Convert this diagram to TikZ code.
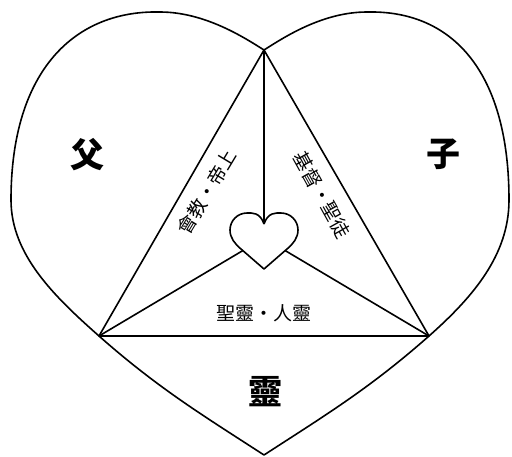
\documentclass[tikz,border=0pt]{standalone}
\usepackage{fontspec}
\newfontfamily\cjk{Noto Sans CJK TC}
\begin{document}
\begin{tikzpicture}[x=1pt,y=-1pt,line width=1.6pt,line join=round,
  big/.style={font=\cjk\bfseries\fontsize{34}{34}\selectfont,inner sep=0pt},
  small/.style={font=\cjk\fontsize{19}{19}\selectfont,inner sep=0pt}]
\useasboundingbox (0,0) rectangle (512,456);
\coordinate (A) at (264,50);
\coordinate (B) at (99,336);
\coordinate (C) at (429,336);
\coordinate (T) at (264,455);
\coordinate (O) at (264,238);
\coordinate (N) at (264,224);
% outer heart
\draw (A) .. controls (245,38) and (205,12) .. (160,12)
  .. controls (75,10) and (11,70) .. (11,200)
  .. controls (11,255) and (55,297) .. (B)
  .. controls (159,389) and (204,416) .. (T)
  .. controls (324,416) and (369,389) .. (C)
  .. controls (473,297) and (509,255) .. (509,200)
  .. controls (509,75) and (455,10) .. (367,12)
  .. controls (322,12) and (283,38) .. (A);
% triangle and spokes
\draw (A) -- (B) -- (C) -- cycle;
\draw (A) -- (O);
\draw (B) -- (O);
\draw (C) -- (O);
% small heart
\draw[fill=white] (N) .. controls (268,212) and (276,213) .. (281,213)
  .. controls (290.4,213) and (298,220.6) .. (298,230)
  .. controls (298,238) and (293,244) .. (287,249)
  -- (264,269) -- (241,249)
  .. controls (235,244) and (230,238) .. (230,230)
  .. controls (230,220.6) and (237.6,213) .. (247,213)
  .. controls (252,213) and (260,212) .. (N);
% labels
\node[big] (fu) at (87,155) {父};
\node[big] (zi) at (443,154) {子};
\node[big] (ling) at (265,392) {靈};
\node[small,rotate=59] (left) at (207,192) {會教・帝上};
\node[small,rotate=-61] (right) at (322,195) {基督・聖徒};
\node[small] (bottom) at (264,313) {聖靈・人靈};
\end{tikzpicture}
\end{document}
